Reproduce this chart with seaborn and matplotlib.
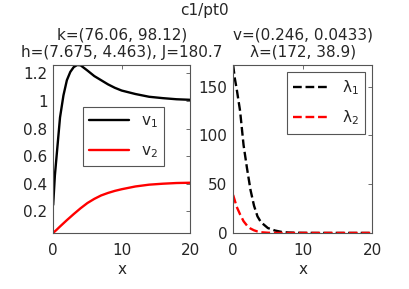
import numpy as np
import pandas as pd
import seaborn as sns
import matplotlib
matplotlib.use('Agg')
import matplotlib.pyplot as plt
from matplotlib.ticker import FormatStrFormatter

sns.set_style('white')
plt.rcParams['font.family'] = ['DejaVu Sans']
plt.rcParams['mathtext.default'] = 'regular'

# values
x = [0, 0.25, 0.5, 1, 1.5, 2, 2.5, 3, 3.5, 4, 5, 6, 7, 8, 9, 10, 12, 14, 16, 18, 20]
v1 = [0.246, 0.46, 0.60, 0.88, 1.04, 1.15, 1.21, 1.245, 1.26, 1.258, 1.22, 1.18, 1.15,
      1.12, 1.095, 1.075, 1.05, 1.03, 1.02, 1.012, 1.008]
v2 = [0.0433, 0.055, 0.066, 0.09, 0.113, 0.136, 0.158, 0.18, 0.201, 0.222, 0.26, 0.29,
      0.315, 0.333, 0.348, 0.36, 0.38, 0.393, 0.40, 0.405, 0.407]
lam1 = [172, 158, 148, 125, 90, 66, 44, 28, 17, 11, 5, 2.5, 1, 0.4, 0.2, 0.1, 0, 0, 0, 0, 0]
lam2 = [38.9, 33, 27, 19, 12, 7.5, 4.5, 2.7, 1.5, 0.7, 0.2, 0.05, 0, 0, 0, 0, 0, 0, 0, 0, 0]

suptitle = 'c1/pt0'
left_title = 'k=(76.06, 98.12)\nh=(7.675, 4.463), J=180.7'
right_title = 'v=(0.246, 0.0433)\nλ=(172, 38.9)'

df = pd.DataFrame({'x': x, 'v1': v1, 'v2': v2, 'lam1': lam1, 'lam2': lam2})

fs = 11
fig = plt.figure(figsize=(4.09, 2.89), dpi=100)
ax1 = fig.add_axes([0.130, 0.194, 0.335, 0.581])
ax2 = fig.add_axes([0.570, 0.194, 0.340, 0.581])

sns.lineplot(data=df, x='x', y='v1', color='black', lw=1.7, label='v$_1$', ax=ax1)
sns.lineplot(data=df, x='x', y='v2', color='red', lw=1.7, label='v$_2$', ax=ax1)
sns.lineplot(data=df, x='x', y='lam1', color='black', lw=1.7, linestyle='--', label='λ$_1$', ax=ax2)
sns.lineplot(data=df, x='x', y='lam2', color='red', lw=1.7, linestyle='--', label='λ$_2$', ax=ax2)

ax1.set_xlim(0, 20)
ax1.set_ylim(min(v2), max(v1))
ax1.set_yticks([0.2, 0.4, 0.6, 0.8, 1.0, 1.2])
ax1.yaxis.set_major_formatter(FormatStrFormatter('%g'))
ax2.set_xlim(0, 20)
ax2.set_ylim(0, max(lam1))
ax2.set_yticks([0, 50, 100, 150])

for ax in (ax1, ax2):
    ax.set_xticks([0, 10, 20])
    ax.set_xlabel('x', fontsize=fs, labelpad=3)
    ax.set_ylabel('')
    ax.tick_params(direction='in', top=True, right=True, length=3, width=0.6,
                   labelsize=fs, color='#555555')
    ax.tick_params(axis='x', pad=7)
    ax.tick_params(axis='y', pad=4)
    for s in ax.spines.values():
        s.set_color('#555555')
        s.set_linewidth(0.8)

ax1.set_title(left_title, fontsize=fs, pad=6, linespacing=1.15)
ax2.set_title(right_title, fontsize=fs, pad=6, linespacing=1.15)
fig.text(0.5, 0.963, suptitle, ha='center', va='center', fontsize=fs)

leg1 = ax1.legend(loc='upper left', bbox_to_anchor=(0.22, 0.75), fontsize=fs,
                  fancybox=False, edgecolor='#555555', framealpha=1,
                  handlelength=2.6, labelspacing=0.9, borderaxespad=0)
leg2 = ax2.legend(loc='upper right', bbox_to_anchor=(0.95, 0.96), fontsize=fs,
                  fancybox=False, edgecolor='#555555', framealpha=1,
                  handlelength=2.4, labelspacing=0.8, borderaxespad=0)
for leg in (leg1, leg2):
    leg.get_frame().set_linewidth(0.8)

fig.savefig('out.png', dpi=100)
